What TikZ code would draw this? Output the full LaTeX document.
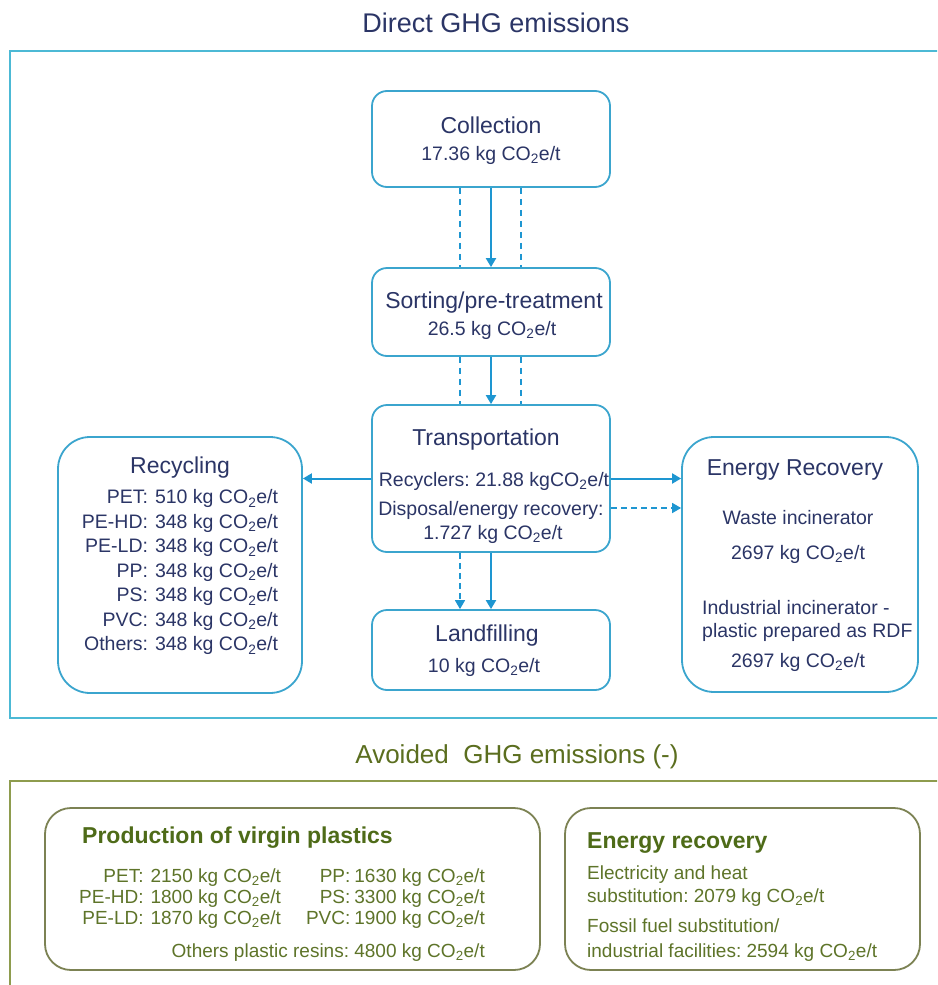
\documentclass[tikz,border=0pt]{standalone}
\usepackage{fontspec}
\setmainfont{Liberation Sans}
\usetikzlibrary{arrows.meta}

\definecolor{navy}{HTML}{2B3566}
\definecolor{frameblue}{HTML}{4CB9D5}
\definecolor{boxblue}{HTML}{3BA5CE}
\definecolor{arrowblue}{HTML}{1E96D1}
\definecolor{olive}{HTML}{8E9C4E}
\definecolor{olivebox}{HTML}{7C8253}
\definecolor{leafdark}{HTML}{4E6B18}
\definecolor{leaftext}{HTML}{5E7429}
\definecolor{avoidgreen}{HTML}{5B6E1F}

\newcommand\cotwo{CO\textsubscript{2}e/t}
\frenchspacing

\tikzset{
  x=1pt, y=-1pt,
  stage/.style={draw=boxblue, line width=1.8pt, rounded corners=15pt,
    minimum width=238pt, inner sep=0pt},
  bigstage/.style={stage, rounded corners=32pt},
  greenbox/.style={draw=olivebox, line width=1.8pt, rounded corners=26pt, inner sep=0pt},
  flow/.style={draw=arrowblue, line width=2pt, -{Triangle[length=9pt,width=10pt]}},
  flowdash/.style={flow, line width=1.6pt, dash pattern=on 6pt off 4pt},
  guide/.style={draw=arrowblue, line width=1.4pt, dash pattern=on 6pt off 5pt},
  head/.style={font=\fontsize{23}{27}\selectfont, text=navy, inner sep=0pt},
  body/.style={font=\fontsize{19.5}{24.5}\selectfont, text=navy, inner sep=0pt},
  gtitle/.style={font=\bfseries\fontsize{23}{27}\selectfont, text=leafdark, inner sep=0pt},
  gbody/.style={font=\fontsize{19}{21}\selectfont, text=leaftext, inner sep=0pt},
}

\begin{document}
\begin{tikzpicture}
\clip (0,0) rectangle (937,985);
\fill[white] (0,0) rectangle (937,985);

% section headings and frames
\node[font=\fontsize{27}{31}\selectfont, text=navy, inner sep=0pt, anchor=base] (dtitle) at (496,32) {Direct GHG emissions};
\draw[frameblue, line width=2.5pt] (10,51) rectangle (960,718);
\node[font=\fontsize{26}{30}\selectfont, text=avoidgreen, inner sep=0pt, anchor=base] (atitle) at (517,763) {Avoided\ \ GHG emissions (-)};
\draw[olive, line width=2pt] (10,781) rectangle (960,1010);

% process stages
\node[stage, minimum height=96pt] (coll) at (491,139) {};
\node[stage, minimum height=88pt] (sort) at (491,312) {};
\node[stage, minimum height=147pt] (trans) at (491,478.5) {};
\node[stage, minimum height=80pt] (land) at (491,650) {};
\node[bigstage, minimum width=244pt, minimum height=256pt] (recy) at (180,565) {};
\node[bigstage, minimum width=236pt, minimum height=255pt] (enrec) at (800,564.5) {};

% stage texts
\node[head, anchor=base] (collT) at (491,133) {Collection};
\node[body, anchor=base] (collV) at (491,160) {17.36 kg \cotwo};
\node[head, anchor=base] (sortT) at (494,308) {Sorting/pre-treatment};
\node[body, anchor=base] (sortV) at (492,335) {26.5 kg \cotwo};
\node[head, anchor=base] (transT) at (486,445) {Transportation};
\node[body, anchor=base] (transR) at (494,486) {Recyclers: 21.88 kg\cotwo};
\node[body, anchor=base] (transD) at (491,515) {Disposal/energy recovery:};
\node[body, anchor=base] (transV) at (493,539) {1.727 kg \cotwo};
\node[head, anchor=base] (landT) at (487,641) {Landfilling};
\node[body, anchor=base] (landV) at (484,672) {10 kg \cotwo};

\node[head, anchor=base] (recyT) at (180,473) {Recycling};
\node[body] (recyTab) at (180,572.5) {\begin{tabular}{@{}r@{\hspace{7pt}}l@{}}
PET: & 510 kg \cotwo\\
PE-HD: & 348 kg \cotwo\\
PE-LD: & 348 kg \cotwo\\
PP: & 348 kg \cotwo\\
PS: & 348 kg \cotwo\\
PVC: & 348 kg \cotwo\\
Others: & 348 kg \cotwo
\end{tabular}};

\node[head, anchor=base] (enrecT) at (795,475) {Energy Recovery};
\node[body, anchor=base] (wasteT) at (798,524) {Waste incinerator};
\node[body, anchor=base] (wasteV) at (798,559) {2697 kg \cotwo};
\node[body, anchor=base west] (indT1) at (702,614) {Industrial incinerator -};
\node[body, anchor=base west] (indT2) at (702,637) {plastic prepared as RDF};
\node[body, anchor=base] (indV) at (798,667) {2697 kg \cotwo};

% connectors
\draw[flow] (coll.south) -- (sort.north);
\draw[guide] ([xshift=-31pt]coll.south) -- ([xshift=-31pt]sort.north);
\draw[guide] ([xshift=30pt]coll.south) -- ([xshift=30pt]sort.north);
\draw[flow] (sort.south) -- (trans.north);
\draw[guide] ([xshift=-31pt]sort.south) -- ([xshift=-31pt]trans.north);
\draw[guide] ([xshift=30pt]sort.south) -- ([xshift=30pt]trans.north);
\draw[flow] (trans.west) -- (trans.west -| recy.east);
\draw[flow] (trans.east) -- (trans.east -| enrec.west);
\coordinate (dispout) at ([yshift=-29.5pt]trans.east);
\draw[flowdash] (dispout) -- (dispout -| enrec.west);
\draw[flow] (trans.south) -- (land.north);
\draw[flowdash] ([xshift=-31pt]trans.south) -- ([xshift=-31pt]land.north);

% avoided emissions
\node[greenbox, minimum width=495pt, minimum height=162pt] (prod) at (292.5,889) {};
\node[greenbox, minimum width=355pt, minimum height=162pt] (ensub) at (742.5,889) {};

\node[gtitle, anchor=base west] (prodT) at (82,843) {Production of virgin plastics};
\node[gbody, anchor=west] (prodL) at (79,899) {\begin{tabular}{@{}r@{\hspace{7pt}}l@{}}
PET: & 2150 kg \cotwo\\
PE-HD: & 1800 kg \cotwo\\
PE-LD: & 1870 kg \cotwo
\end{tabular}};
\node[gbody, anchor=east] (prodR) at (485,899) {\begin{tabular}{@{}r@{\hspace{4pt}}l@{}}
PP: & 1630 kg \cotwo\\
PS: & 3300 kg \cotwo\\
PVC: & 1900 kg \cotwo
\end{tabular}};
\node[gbody, anchor=base east] (prodO) at (485,957) {Others plastic resins: 4800 kg \cotwo};

\node[gtitle, anchor=base west] (ensubT) at (587,848) {Energy recovery};
\node[gbody, anchor=base west] (ens1) at (587,879) {Electricity and heat};
\node[gbody, anchor=base west] (ens2) at (587,902) {substitution: 2079 kg \cotwo};
\node[gbody, anchor=base west] (ens3) at (587,932) {Fossil fuel substitution/};
\node[gbody, anchor=base west] (ens4) at (587,957) {industrial facilities: 2594 kg \cotwo};
\end{tikzpicture}
\end{document}
